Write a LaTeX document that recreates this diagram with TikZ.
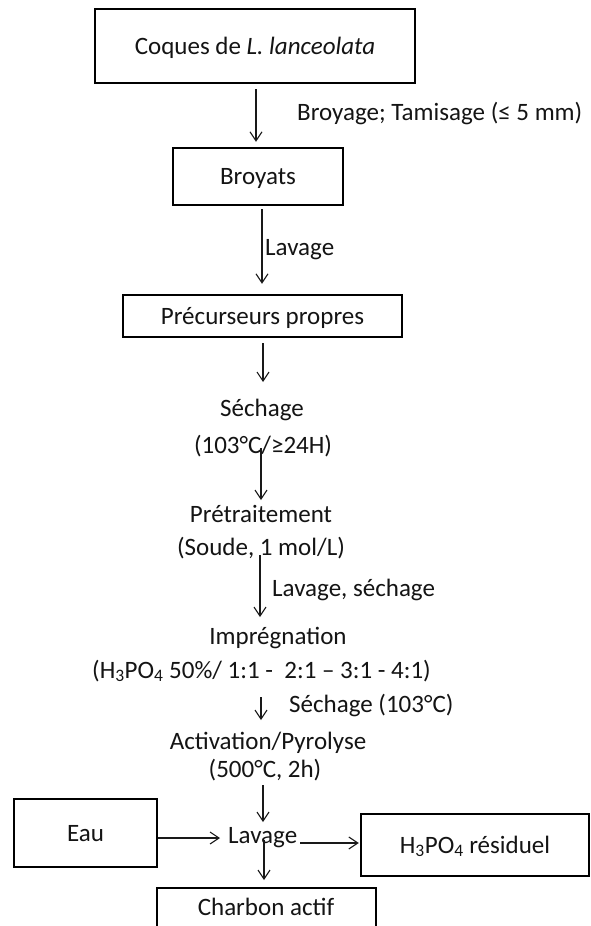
\documentclass[tikz,border=0pt]{standalone}
\usepackage{fontspec}
\setmainfont{Carlito}
\usetikzlibrary{arrows.meta}
\begin{document}
\begin{tikzpicture}[x=1pt,y=-1pt,
  every node/.style={font=\fontsize{25}{30}\selectfont, text=black!92, inner sep=0pt},
  box/.style={draw=black, line width=2.4pt, text height=20pt, text depth=4pt},
  lbl/.style={anchor=base},
  lblw/.style={anchor=base west},
  arr/.style={draw=black!90, line width=1.1pt, -{Straight Barb[length=9pt,width=12pt]}}]
\clip (0,0) rectangle (590,926);
\fill[white] (0,0) rectangle (590,926);

\node[box, minimum width=320pt, minimum height=74pt] (box1) at (255,46) {Coques de \textit{L. lanceolata}};
\node[lblw] (broy) at (297,120) {Broyage; Tamisage (≤ 5 mm)};
\node[box, minimum width=170pt, minimum height=57pt] (box2) at (258,176.5) {Broyats};
\node[lblw] (lav1) at (265,255) {Lavage};
\node[box, minimum width=279pt, minimum height=42pt] (box3) at (262.5,316) {Précurseurs propres};
\node[lbl] (sech) at (262,416) {Séchage};
\node[lbl] (t103) at (263,453) {(103°C/≥24H)};
\node[lbl] (pret) at (261,522) {Prétraitement};
\node[lbl] (soude) at (261,555) {(Soude, 1 mol/L)};
\node[lblw] (lavsech) at (272,596) {Lavage, séchage};
\node[lbl] (impr) at (278,644) {Imprégnation};
\node[lblw] (h3line) at (92,678) {(H\textsubscript{3}PO\textsubscript{4} 50\%/ 1:1 -\ \ 2:1 – 3:1 - 4:1)};
\node[lblw] (sech2) at (289,712) {Séchage (103°C)};
\node[lbl] (activ) at (268,749) {Activation/Pyrolyse};
\node[lbl] (p500) at (265,777) {(500°C, 2h)};
\node[box, minimum width=143pt, minimum height=68pt] (eau) at (85.5,833) {Eau};
\node[lblw] (lav2) at (228,843) {Lavage};
\node[box, minimum width=228pt, minimum height=62pt] (h3box) at (475,845) {H\textsubscript{3}PO\textsubscript{4} résiduel};
\node[box, minimum width=219pt, minimum height=60pt, anchor=north] (charbonbox) at (266.5,887) {};
\node[lbl] (charbon) at (266,915) {Charbon actif};

\draw[arr] ([xshift=1pt,yshift=-5pt]box1.south) -- ([xshift=-2pt,yshift=5pt]box2.north);
\draw[arr] ([xshift=4pt,yshift=-3pt]box2.south) -- ([xshift=-0.5pt,yshift=10pt]box3.north);
\draw[arr] ([xshift=0.5pt,yshift=-5pt]box3.south) -- ([xshift=1pt,yshift=34pt]sech.base);
\draw[arr] ([xshift=-2pt,yshift=5pt]t103.base) -- ([yshift=22pt]pret.base);
\draw[arr] ([xshift=-1pt]soude.base) -- ([xshift=-18pt,yshift=27pt]impr.base);
\draw[arr] ([xshift=169pt,yshift=-19pt]h3line.base west) -- ([xshift=-7pt,yshift=29pt]activ.base);
\draw[arr] ([xshift=-2pt,yshift=-8pt]p500.base) -- ([xshift=35pt,yshift=21pt]lav2.base west);
\draw[arr] ([yshift=-5pt]eau.east) -- ([xshift=-8pt,yshift=5pt]lav2.base west);
\draw[arr] ([xshift=72pt]lav2.base west) -- ([xshift=-1pt,yshift=2pt]h3box.west);
\draw[arr] ([xshift=36pt,yshift=3pt]lav2.base west) -- ([xshift=-2.5pt,yshift=7pt]charbonbox.north);
\end{tikzpicture}
\end{document}
